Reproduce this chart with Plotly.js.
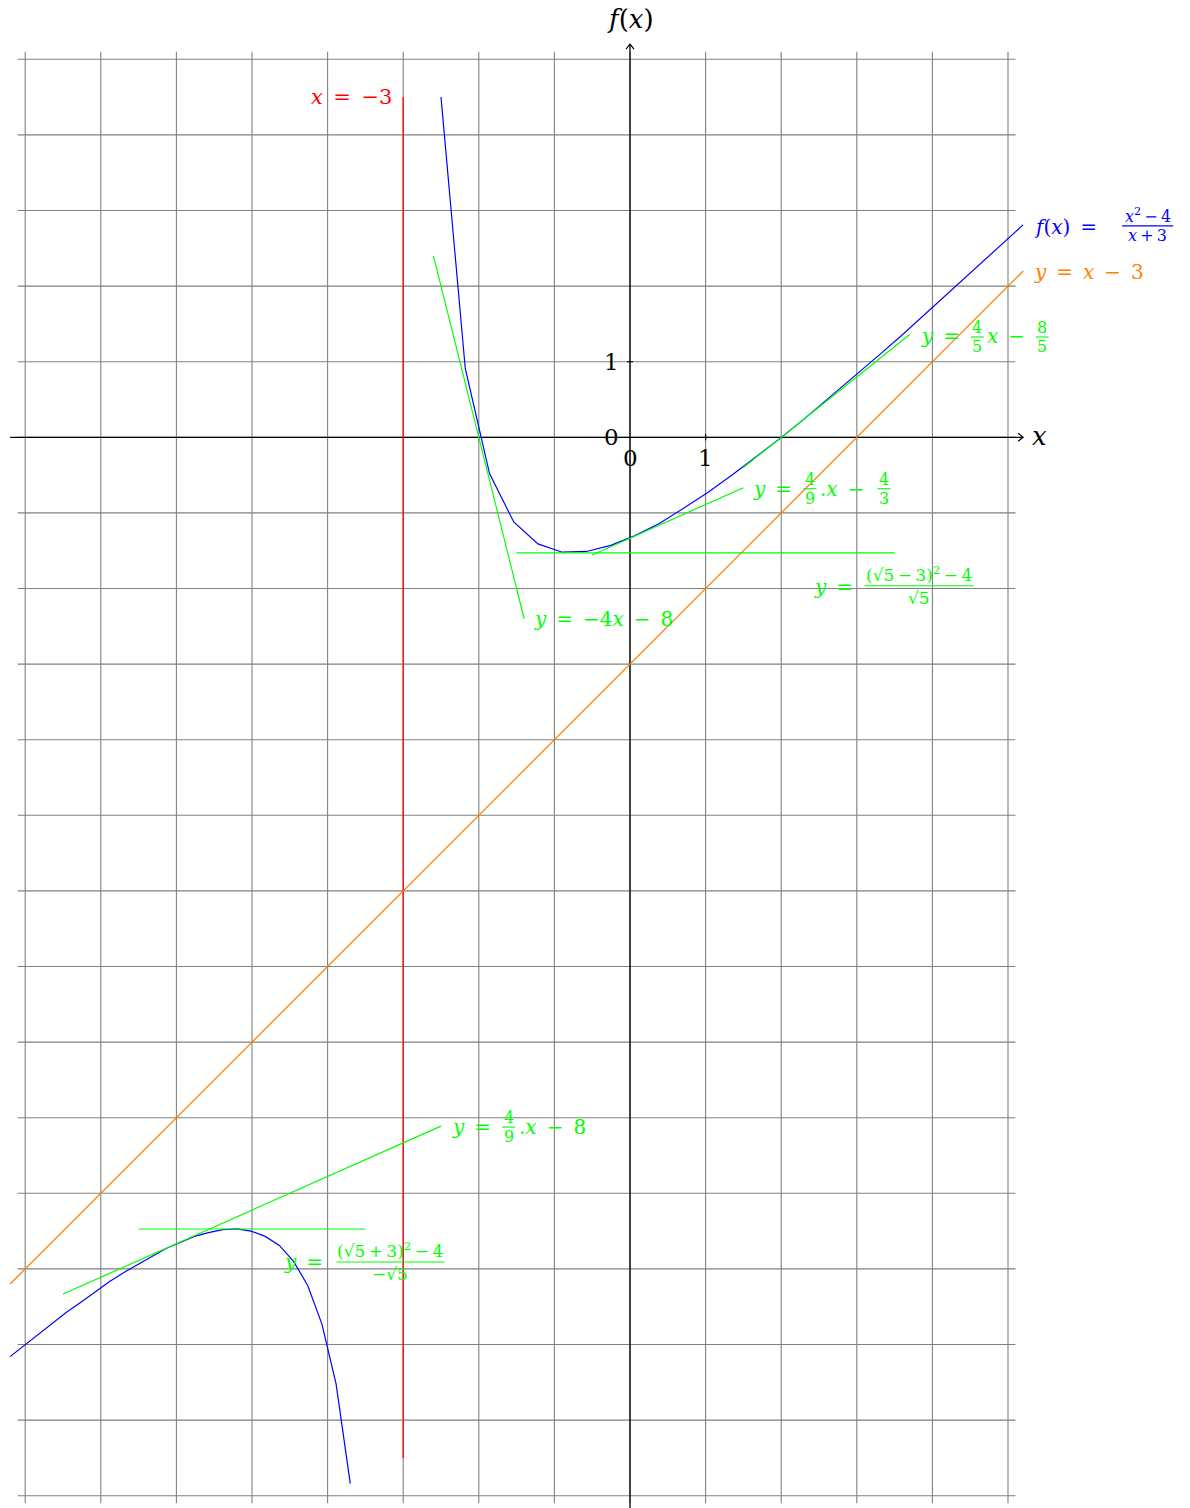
<!DOCTYPE html>
<html>
<head>
<meta charset="utf-8">
<script src="https://cdn.plot.ly/plotly-3.0.1.min.js"></script>
<style>html,body{margin:0;padding:0;background:#fff;}#chart{width:1190px;height:1508px;}</style>
</head>
<body>
<div id="chart"></div>
<script>
// ---------- data ----------
// right branch of f(x) = (x^2-4)/(x+3), sampled points (25 samples)
const rightX = [-2.5, -2.179, -1.858, -1.538, -1.217, -0.896, -0.575, -0.254, 0.067, 0.388, 0.708, 1.029, 1.35, 1.671, 1.992, 2.313, 2.633, 2.954, 3.275, 3.596, 3.917, 4.238, 4.558, 4.879, 5.2];
const rightY = [4.5, 0.91, -0.48, -1.12, -1.41, -1.52, -1.51, -1.43, -1.30, -1.14, -0.94, -0.73, -0.50, -0.26, -0.01, 0.25, 0.52, 0.79, 1.07, 1.35, 1.64, 1.93, 2.22, 2.51, 2.81];
// left branch
const leftX = [-8.2, -8.013, -7.825, -7.638, -7.45, -7.263, -7.075, -6.888, -6.7, -6.513, -6.325, -6.138, -5.95, -5.763, -5.575, -5.388, -5.2, -5.013, -4.825, -4.638, -4.45, -4.263, -4.075, -3.888, -3.7];
const leftY = [-12.16, -12.01, -11.86, -11.72, -11.57, -11.44, -11.30, -11.17, -11.05, -10.94, -10.83, -10.73, -10.65, -10.57, -10.52, -10.48, -10.47, -10.50, -10.57, -10.69, -10.90, -11.22, -11.73, -12.52, -13.84];
// vertical asymptote x = -3
const asymX = [-3, -3];
const asymY = [4.5, -13.5];
// oblique asymptote y = x - 3
const obliqueX = [-8.2, 5.2];
const obliqueY = [-11.2, 2.2];
// tangent segments
const tanAX = [-2.6, -1.4];   const tanAY = [2.4, -2.4];       // y = -4x - 8
const tanBX = [-0.5, 1.5];    const tanBY = [-1.556, -0.667];  // y = 4/9 x - 4/3
const tanCX = [1.5, 3.7];     const tanCY = [-0.4, 1.36];      // y = 4/5 x - 8/5
const tanDX = [-1.5, 3.5];    const tanDY = [-1.528, -1.528];  // y = ((sqrt5-3)^2-4)/sqrt5
const tanEX = [-6.5, -3.5];   const tanEY = [-10.472, -10.472];// y = ((sqrt5+3)^2-4)/(-sqrt5)
const tanFX = [-7.5, -2.5];   const tanFY = [-11.333, -9.111]; // y = 4/9 x - 8
// grid and axes
const gridXs = [-8, -7, -6, -5, -4, -3, -2, -1, 0, 1, 2, 3, 4, 5];
const gridYs = [-14, -13, -12, -11, -10, -9, -8, -7, -6, -5, -4, -3, -2, -1, 0, 1, 2, 3, 4, 5];
const gridSpanX = [-8.1, 5.1];
const gridSpanY = [-14.1, 5.1];
const xAxisSpan = [-8.2, 5.2];
const yAxisSpan = [-14.4, 5.2];
const tickLabelsX = ["0", "1"]; const tickPosX = [0, 1];
const tickLabelsY = ["0", "1"]; const tickPosY = [0, 1];

// ---------- styling ----------
const BLUE = '#0000ff', ORANGE = '#ff8000', GREEN = '#00ff00', RED = '#ff0000';
const FONT = 'DejaVu Serif';
const PX = 75.6; // pixels per unit

const traces = [];
// grid
const gx = [], gy = [];
gridXs.forEach(v => { gx.push(v, v, null); gy.push(gridSpanY[0], gridSpanY[1], null); });
gridYs.forEach(v => { gx.push(gridSpanX[0], gridSpanX[1], null); gy.push(v, v, null); });
traces.push({x: gx, y: gy, mode: 'lines', line: {color: 'rgb(128,128,128)', width: 1.1}, hoverinfo: 'skip'});
// axes
traces.push({x: xAxisSpan, y: [0, 0], mode: 'lines', line: {color: '#000', width: 1.3}, hoverinfo: 'skip'});
traces.push({x: [0, 0], y: yAxisSpan, mode: 'lines', line: {color: '#000', width: 1.3}, hoverinfo: 'skip'});
// arrow heads (open chevrons)
const aL = 5 / PX, aW = 4 / PX;
traces.push({x: [xAxisSpan[1] - aL, xAxisSpan[1], xAxisSpan[1] - aL], y: [aW, 0, -aW], mode: 'lines', line: {color: '#000', width: 1.2}, hoverinfo: 'skip'});
traces.push({x: [-aW, 0, aW], y: [yAxisSpan[1] - aL, yAxisSpan[1], yAxisSpan[1] - aL], mode: 'lines', line: {color: '#000', width: 1.2}, hoverinfo: 'skip'});
// asymptotes
traces.push({x: asymX, y: asymY, mode: 'lines', line: {color: RED, width: 1.3}, hoverinfo: 'skip'});
traces.push({x: obliqueX, y: obliqueY, mode: 'lines', line: {color: ORANGE, width: 1.3}, hoverinfo: 'skip'});
// function
traces.push({x: rightX, y: rightY, mode: 'lines', line: {color: BLUE, width: 1.2}, hoverinfo: 'skip'});
traces.push({x: leftX, y: leftY, mode: 'lines', line: {color: BLUE, width: 1.2}, hoverinfo: 'skip'});
// tangents
[[tanAX, tanAY], [tanBX, tanBY], [tanCX, tanCY], [tanDX, tanDY], [tanEX, tanEY], [tanFX, tanFY]].forEach(t => {
  traces.push({x: t[0], y: t[1], mode: 'lines', line: {color: GREEN, width: 1.2}, hoverinfo: 'skip'});
});

const annotations = [];
const shapes = [];
function txt(x, y, text, color, size, xanchor, dx, dy) {
  annotations.push({x: x, y: y, xref: 'x', yref: 'y', text: text, showarrow: false,
    xanchor: xanchor, yanchor: 'middle', xshift: dx, yshift: dy, borderpad: 0,
    font: {family: FONT, size: size, color: color}});
}
// fraction: bar from dx to dx+w at height dy (pixel offsets from anchor, y up)
function frac(x, y, num, den, color, size, dx, w, dy, numDy, denDy) {
  shapes.push({type: 'line', xref: 'x', yref: 'y', xsizemode: 'pixel', ysizemode: 'pixel',
    xanchor: x, yanchor: y, x0: dx, x1: dx + w, y0: dy, y1: dy, line: {color: color, width: 1.1}});
  txt(x, y, num, color, size, 'center', dx + w / 2, dy + numDy);
  txt(x, y, den, color, size, 'center', dx + w / 2, dy + denDy);
}
const SP = '\u2002', TH = '\u2009';
const S = 20, F = 16;

// axis labels
txt(0, yAxisSpan[1], '<i>f</i>(<i>x</i>)', '#000', 26, 'center', 0, 25);
txt(xAxisSpan[1], 0, '<i>x</i>', '#000', 26, 'left', 8, 1);
// tick labels and ticks
txt(tickPosX[0], 0, tickLabelsX[0], '#000', 23, 'center', 0, -21);
txt(tickPosX[1], 0, tickLabelsX[1], '#000', 23, 'center', 0, -21);
txt(0, tickPosY[0], tickLabelsY[0], '#000', 23, 'center', -19, 0);
txt(0, tickPosY[1], tickLabelsY[1], '#000', 23, 'center', -19, 0);
shapes.push({type: 'line', xref: 'x', yref: 'y', ysizemode: 'pixel', yanchor: 0, x0: tickPosX[1], x1: tickPosX[1], y0: -3, y1: 3, line: {color: '#000', width: 1.2}});
shapes.push({type: 'line', xref: 'x', yref: 'y', xsizemode: 'pixel', xanchor: 0, y0: tickPosY[1], y1: tickPosY[1], x0: -3, x1: 3, line: {color: '#000', width: 1.2}});

// x = -3
txt(asymX[0], asymY[0], '<i>x</i>' + SP + '=' + SP + '−3', RED, 21, 'right', -10, 0);
// f(x) label
const fx = rightX[rightX.length - 1], fy = rightY[rightY.length - 1];
txt(fx, fy, '<i>f</i>(<i>x</i>)' + SP + '=', BLUE, S, 'left', 10, -2);
frac(fx, fy, '<i>x</i><sup>2</sup>' + TH + '−' + TH + '4', '<i>x</i>' + TH + '+' + TH + '3', BLUE, F, 99, 51, -1, 10, -10);
// y = x - 3
txt(obliqueX[1], obliqueY[1], '<i>y</i>' + SP + '=' + SP + '<i>x</i>' + SP + '−' + SP + '3', ORANGE, S, 'left', 10, -1);
// y = -4x - 8
txt(tanAX[1], tanAY[1], '<i>y</i>' + SP + '=' + SP + '−4<i>x</i>' + SP + '−' + SP + '8', GREEN, S, 'left', 9, 0);
// y = 4/9 .x - 4/3
const bx = tanBX[1], by = tanBY[1];
txt(bx, by, '<i>y</i>' + SP + '=', GREEN, S, 'left', 9, -1);
frac(bx, by, '4', '9', GREEN, F, 60, 13, -1, 9.5, -9.5);
txt(bx, by, '.<i>x</i>' + SP + '−', GREEN, S, 'left', 76, -1);
frac(bx, by, '4', '3', GREEN, F, 134, 13, -1, 9.5, -9.5);
// y = 4/5 x - 8/5
const cx = tanCX[1], cy = tanCY[1];
txt(cx, cy, '<i>y</i>' + SP + '=', GREEN, S, 'left', 10, -2);
frac(cx, cy, '4', '5', GREEN, F, 61, 13, -2.5, 9.5, -9.5);
txt(cx, cy, '<i>x</i>' + SP + '−', GREEN, S, 'left', 76, -2);
frac(cx, cy, '8', '5', GREEN, F, 126, 13, -2.5, 9.5, -9.5);
// y = ((sqrt5-3)^2-4)/sqrt5
const dx0 = tanDX[1], dy0 = tanDY[1];
txt(dx0, dy0, '<i>y</i>' + SP + '=', GREEN, S, 'left', -82, -34);
frac(dx0, dy0, '(√5' + TH + '−' + TH + '3)<sup>2</sup>' + TH + '−' + TH + '4', '√5', GREEN, 17, -30, 109, -33, 12, -12);
// y = ((sqrt5+3)^2-4)/(-sqrt5)
const ex = tanEX[1], ey = tanEY[1];
txt(ex, ey, '<i>y</i>' + SP + '=', GREEN, S, 'left', -82, -33);
frac(ex, ey, '(√5' + TH + '+' + TH + '3)<sup>2</sup>' + TH + '−' + TH + '4', '−√5', GREEN, 17, -29, 108, -33, 12, -12);
// y = 4/9 .x - 8
const fx2 = tanFX[1], fy2 = tanFY[1];
txt(fx2, fy2, '<i>y</i>' + SP + '=', GREEN, S, 'left', 10, -1);
frac(fx2, fy2, '4', '9', GREEN, F, 61, 13, -1, 9.5, -9.5);
txt(fx2, fy2, '.<i>x</i>' + SP + '−' + SP + '8', GREEN, S, 'left', 77, -1);

const layout = {
  width: 1190, height: 1508,
  margin: {l: 0, r: 0, t: 0, b: 0},
  paper_bgcolor: '#fff', plot_bgcolor: '#fff',
  showlegend: false,
  xaxis: {range: [-630 / PX, (1190 - 630) / PX], visible: false, fixedrange: true},
  yaxis: {range: [(437.3 - 1508) / PX, 437.3 / PX], visible: false, fixedrange: true},
  annotations: annotations,
  shapes: shapes
};
Plotly.newPlot('chart', traces, layout, {displayModeBar: false, staticPlot: true});
</script>
</body>
</html>
